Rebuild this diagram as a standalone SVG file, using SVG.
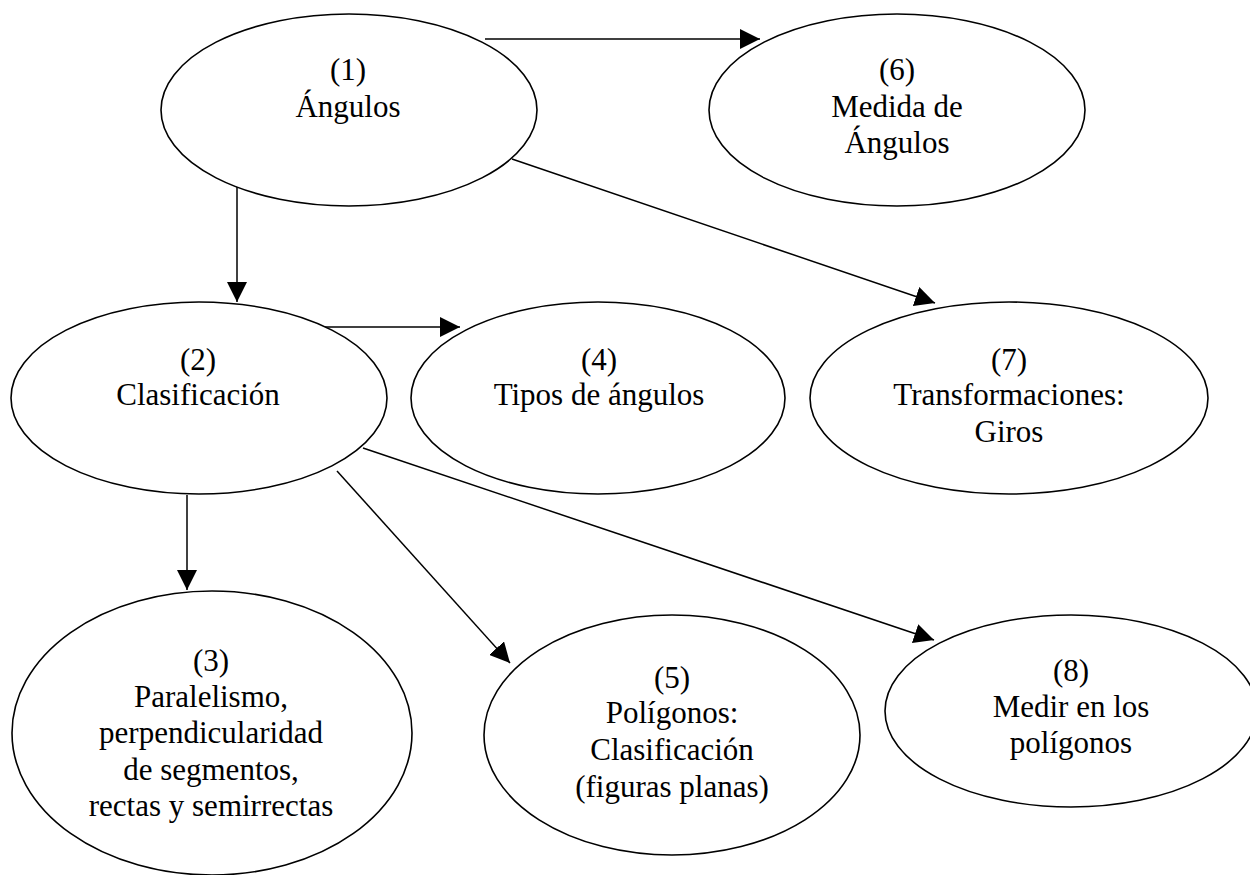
<svg xmlns="http://www.w3.org/2000/svg" width="1250" height="875" viewBox="0 0 1250 875">
  <style>
    .node ellipse { fill: #ffffff; stroke: #000000; stroke-width: 1.6; }
    .node text { font-family: "Liberation Serif", "Times New Roman", serif; font-size: 31px; fill: #000000; text-anchor: middle; }
    .edge { stroke: #000000; stroke-width: 1.5; fill: none; marker-end: url(#arrow); }
  </style>
  <defs>
    <marker id="arrow" markerUnits="userSpaceOnUse" markerWidth="20" markerHeight="20" refX="20" refY="10" orient="auto">
      <path d="M0,0 L20,10 L0,20 z" fill="#000000"/>
    </marker>
  </defs>
  <rect x="0" y="0" width="1250" height="875" fill="#ffffff"/>

  <!-- connectors -->
  <g id="edges">
    <line class="edge" x1="485" y1="39" x2="760" y2="39"/>
    <line class="edge" x1="237" y1="183" x2="237" y2="302"/>
    <line class="edge" x1="512" y1="159" x2="935" y2="303"/>
    <line class="edge" x1="311" y1="327" x2="460" y2="327"/>
    <line class="edge" x1="187" y1="495" x2="187" y2="590"/>
    <line class="edge" x1="337" y1="471" x2="510" y2="663"/>
    <line class="edge" x1="363" y1="448" x2="934" y2="640"/>
  </g>

  <!-- nodes -->
  <g id="node1" class="node">
    <ellipse cx="349" cy="110" rx="188" ry="96"/>
    <text x="348" y="80">(1)</text>
    <text x="348" y="117">Ángulos</text>
  </g>
  <g id="node6" class="node">
    <ellipse cx="897" cy="110" rx="188" ry="96"/>
    <text x="897" y="80">(6)</text>
    <text x="897" y="117">Medida de</text>
    <text x="897" y="153">Ángulos</text>
  </g>
  <g id="node2" class="node">
    <ellipse cx="199" cy="398" rx="188" ry="96"/>
    <text x="198" y="370">(2)</text>
    <text x="198" y="405">Clasificación</text>
  </g>
  <g id="node4" class="node">
    <ellipse cx="598" cy="398" rx="187" ry="96"/>
    <text x="599" y="370">(4)</text>
    <text x="599" y="405">Tipos de ángulos</text>
  </g>
  <g id="node7" class="node">
    <ellipse cx="1009" cy="398" rx="199" ry="96"/>
    <text x="1009" y="370">(7)</text>
    <text x="1009" y="405">Transformaciones:</text>
    <text x="1009" y="442">Giros</text>
  </g>
  <g id="node3" class="node">
    <ellipse cx="212" cy="733" rx="200" ry="142"/>
    <text x="211" y="671">(3)</text>
    <text x="211" y="707">Paralelismo,</text>
    <text x="211" y="743">perpendicularidad</text>
    <text x="211" y="780">de segmentos,</text>
    <text x="211" y="816">rectas y semirrectas</text>
  </g>
  <g id="node5" class="node">
    <ellipse cx="672" cy="735" rx="188" ry="120"/>
    <text x="672" y="688">(5)</text>
    <text x="672" y="723">Polígonos:</text>
    <text x="672" y="760">Clasificación</text>
    <text x="672" y="797">(figuras planas)</text>
  </g>
  <g id="node8" class="node">
    <ellipse cx="1071" cy="711" rx="186" ry="96"/>
    <text x="1071" y="681">(8)</text>
    <text x="1071" y="717">Medir en los</text>
    <text x="1071" y="753">polígonos</text>
  </g>
</svg>
